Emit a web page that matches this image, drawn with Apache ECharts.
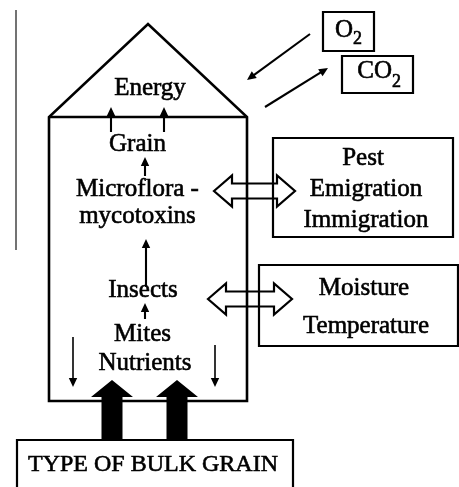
<!DOCTYPE html>
<html><head><meta charset="utf-8">
<script src="https://cdn.jsdelivr.net/npm/echarts@6/dist/echarts.min.js"></script>
<style>html,body{margin:0;padding:0;background:#fff}#c{width:459px;height:487px}</style>
</head><body><div id="c"></div><script>
// Diagram geometry in diagram units (mapped through hidden value axes)
const labelTexts = ['Energy','Grain','Microflora -','mycotoxins','Insects','Mites','Nutrients',
  'Pest','Emigration','Immigration','Moisture','Temperature','TYPE OF BULK GRAIN'];
const labelX = [150,137.5,137.5,137.5,143,142.5,145,363,366,366,364,366,153];
const labelY = [97,153,198,225,299,343,372,167,198,229,297,335,473];
const labelSize = [25,25,25,25,25,25,25,25,25,25,25,25,24];

const gasMain = ['O','CO'];
const gasJoinX = [353,392];
const gasY = [39,80];
const gasSubY = [45,88];

const boxes = [
  [323,12,374,51],    // O2
  [342,56,413,93],    // CO2
  [273,138,453,237],  // Pest
  [259,265,458,346],  // Moisture / Temperature
  [17,440,293,500]    // Type of bulk grain
];
const siloX = [49,49,148,247,247];
const siloY = [401,117,24,117,401];
const eaveLine = [49,117,247,117];
const leftRule = [16,10,16,250];

// thin arrows: from (x0,y0) to tip (x1,y1)
const arrows = [
  [111,132,111,107],
  [164,132,164,107],
  [145,176,145,157],
  [146,287,146,239],
  [145,319,145,303],
  [73,337,73,387],
  [215,345,215,387],
  [310,34,247,80],
  [265,107,328,68]
];
// hollow double arrows: left tip x, right tip x, centre y
const doubleArrows = [
  [214,295,191],
  [208,292,299]
];
// block arrows: centre x, tip y, bottom y
const blockArrows = [
  [112,380,440],
  [177,380,440]
];

const FONT = '"Liberation Serif","Times New Roman",serif';
const chart = echarts.init(document.getElementById('c'), null, {renderer:'canvas'});

function custom(name, data, render, z) {
  return {type:'custom', name, coordinateSystem:'cartesian2d', data, clip:false, silent:true,
    z: z || 2, renderItem: render};
}

const option = {
  animation:false,
  backgroundColor:'#fff',
  grid:{left:0,right:0,top:0,bottom:0},
  xAxis:{type:'value',min:0,max:459,show:false},
  yAxis:{type:'value',min:0,max:487,inverse:true,show:false},
  series:[
    custom('rule',[leftRule],function(p,api){
      const a=api.coord([api.value(0),api.value(1)]), b=api.coord([api.value(2),api.value(3)]);
      return {type:'line',shape:{x1:a[0],y1:a[1],x2:b[0],y2:b[1]},style:{stroke:'#444',lineWidth:1.5}};
    }),
    custom('silo',[0],function(p,api){
      const pts = siloX.map((x,i)=>api.coord([x,siloY[i]]));
      const e1 = api.coord([eaveLine[0],eaveLine[1]]), e2 = api.coord([eaveLine[2],eaveLine[3]]);
      return {type:'group',children:[
        {type:'polygon',shape:{points:pts},style:{fill:null,stroke:'#000',lineWidth:2.6,lineJoin:'miter'}},
        {type:'line',shape:{x1:e1[0],y1:e1[1],x2:e2[0],y2:e2[1]},style:{stroke:'#000',lineWidth:2.4}}
      ]};
    },3),
    custom('boxes',boxes,function(p,api){
      const a=api.coord([api.value(0),api.value(1)]), b=api.coord([api.value(2),api.value(3)]);
      return {type:'rect',shape:{x:a[0],y:a[1],width:b[0]-a[0],height:b[1]-a[1]},
        style:{fill:null,stroke:'#000',lineWidth:2.2}};
    }),
    custom('arrows',arrows,function(p,api){
      const a=api.coord([api.value(0),api.value(1)]), b=api.coord([api.value(2),api.value(3)]);
      const dx=b[0]-a[0], dy=b[1]-a[1], L=Math.hypot(dx,dy), ux=dx/L, uy=dy/L;
      const hl=9, hw=4.2;
      const bx=b[0]-ux*hl, by=b[1]-uy*hl;
      const w = p.dataIndex===5||p.dataIndex===6 ? 1.6 : 2.1;
      return {type:'group',children:[
        {type:'line',shape:{x1:a[0],y1:a[1],x2:bx+ux,y2:by+uy},style:{stroke:'#000',lineWidth:w}},
        {type:'polygon',shape:{points:[[b[0],b[1]],[bx-uy*hw,by+ux*hw],[bx+uy*hw,by-ux*hw]]},style:{fill:'#000'}}
      ]};
    }),
    custom('doubleArrows',doubleArrows,function(p,api){
      const L=api.coord([api.value(0),api.value(2)]), R=api.coord([api.value(1),api.value(2)]);
      const y=L[1], hl=18, H=15.5, s=7.5;
      const pts=[[L[0],y],[L[0]+hl,y-H],[L[0]+hl,y-s],[R[0]-hl,y-s],[R[0]-hl,y-H],[R[0],y],
        [R[0]-hl,y+H],[R[0]-hl,y+s],[L[0]+hl,y+s],[L[0]+hl,y+H]];
      return {type:'polygon',shape:{points:pts},style:{fill:null,stroke:'#000',lineWidth:2.2,lineJoin:'miter'}};
    }),
    custom('blockArrows',blockArrows,function(p,api){
      const x=api.value(0);
      const tip=api.coord([x,api.value(1)]), bot=api.coord([x,api.value(2)]);
      const hb=tip[1]+17, hw=21, sw=10.5;
      const pts=[[tip[0],tip[1]],[tip[0]+hw,hb],[tip[0]+sw,hb],[tip[0]+sw,bot[1]],
        [tip[0]-sw,bot[1]],[tip[0]-sw,hb],[tip[0]-hw,hb]];
      return {type:'polygon',shape:{points:pts},style:{fill:'#000'}};
    },4),
    custom('labels',labelX.map((x,i)=>[x,labelY[i]]),function(p,api){
      const i=p.dataIndex, sz=labelSize[i];
      const c=api.coord([api.value(0),api.value(1)]);
      return {type:'text',x:c[0],y:c[1]-0.3375*sz,style:{text:labelTexts[i],fill:'#000',
        font:sz+'px '+FONT,align:'center',verticalAlign:'middle',stroke:'#000',lineWidth:0.6}};
    },5),
    custom('gases',gasJoinX.map((x,i)=>[x,gasY[i],gasSubY[i]]),function(p,api){
      const i=p.dataIndex;
      const c=api.coord([api.value(0),api.value(1)]), s=api.coord([api.value(0),api.value(2)]);
      return {type:'group',children:[
        {type:'text',x:c[0],y:c[1]-0.3375*25,style:{text:gasMain[i],fill:'#000',font:'25px '+FONT,
          align:'right',verticalAlign:'middle',stroke:'#000',lineWidth:0.6}},
        {type:'text',x:s[0],y:s[1]-0.3375*18,style:{text:'2',fill:'#000',font:'18px '+FONT,
          align:'left',verticalAlign:'middle',stroke:'#000',lineWidth:0.6}}
      ]};
    },5)
  ]
};
chart.setOption(option);
</script></body></html>
